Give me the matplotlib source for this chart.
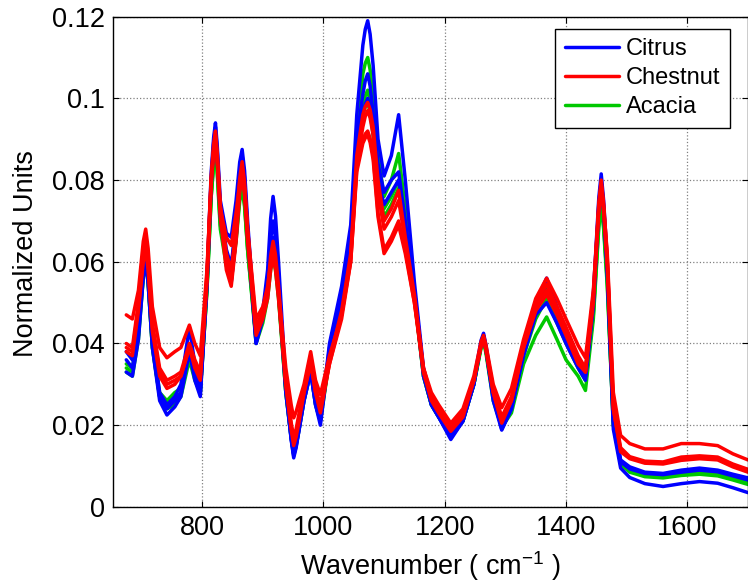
import numpy as np
import matplotlib
matplotlib.use("Agg")
import matplotlib.pyplot as plt

# wavenumber grid (cm-1) shared by all spectra
wn = [675, 685, 695, 703, 707, 711, 718, 730, 742, 755, 765, 779, 788, 797, 808,
      815, 819, 822, 825, 830, 840, 848, 856, 862, 866, 870, 875, 889, 900, 908,
      913, 917, 921, 926, 938, 947, 951, 955, 960, 968, 979, 987, 995, 1010, 1030,
      1045, 1055, 1065, 1069, 1073, 1077, 1082, 1090, 1100, 1112, 1124, 1135, 1150, 1165, 1178,
      1190, 1210, 1230, 1248, 1260, 1264, 1268, 1280, 1294, 1310, 1330, 1350, 1368, 1385, 1400,
      1420, 1432, 1445, 1454, 1458, 1462, 1468, 1478, 1490, 1505, 1530, 1560, 1590, 1620, 1650, 1675, 1700]

# Citrus spectra
citrus_1 = [.038, .036, .045, .0586, .062, .0568, .041, .028, .025, .027, .030, .044, .035, .029, .056,
            .082, .0904, .094, .0883, .075, .067, .066, .075, .0844, .0875, .0823, .070, .041, .048, .058,
            .0706, .076, .0712, .060, .030, .0173, .013, .0155, .020, .027, .034, .026, .021, .040, .054,
            .069, .096, .113, .1169, .119, .1157, .108, .090, .081, .086, .096, .080, .055, .034, .026,
            .023, .0175, .022, .031, .0408, .0425, .0396, .028, .0195, .025, .039, .050, .056, .049, .043,
            .036, .033, .052, .0756, .0815, .075, .060, .022, .0115, .0098, .0085, .0082, .0090, .0095, .0090, .0080, .0071]
citrus_2 = [.036, .034, .043, .0574, .061, .0558, .040, .027, .024, .026, .028, .039, .033, .028, .055,
            .080, .0891, .093, .087, .073, .063, .059, .070, .082, .086, .0806, .068, .040, .047, .055,
            .0655, .070, .0658, .056, .029, .0163, .012, .0145, .019, .026, .033, .025, .021, .039, .052,
            .066, .090, .101, .1043, .106, .103, .096, .084, .077, .080, .082, .070, .053, .033, .025,
            .022, .017, .021, .030, .0402, .042, .039, .027, .019, .024, .038, .048, .053, .047, .042,
            .035, .032, .050, .074, .080, .0734, .058, .021, .011, .0093, .0082, .0079, .0085, .0090, .0086, .0076, .0066]
citrus_3 = [.033, .032, .041, .0562, .060, .0548, .039, .026, .0225, .0245, .027, .038, .031, .027, .054,
            .079, .0874, .091, .085, .071, .060, .055, .066, .0788, .083, .0779, .066, .040, .046, .053,
            .0621, .066, .0621, .053, .028, .0164, .0125, .0148, .019, .026, .033, .025, .020, .038, .051,
            .064, .086, .096, .0986, .100, .0976, .092, .080, .074, .077, .080, .068, .052, .032, .025,
            .022, .0165, .021, .030, .0398, .0415, .0384, .026, .0188, .024, .037, .047, .050, .045, .040,
            .034, .031, .049, .073, .079, .0724, .057, .019, .0095, .0072, .0057, .0050, .0057, .0062, .0058, .0047, .0035]

# Chestnut spectra
chestnut_1 = [.047, .046, .053, .065, .068, .0633, .049, .039, .0365, .038, .039, .0445, .040, .037, .058,
              .080, .087, .090, .0849, .073, .066, .064, .072, .0795, .082, .0778, .068, .046, .049, .054,
              .0596, .062, .0593, .053, .034, .0249, .0218, .0233, .026, .030, .038, .031, .0275, .037, .047,
              .060, .082, .089, .0903, .091, .0892, .085, .071, .062, .065, .069, .062, .050, .034, .028,
              .025, .0205, .024, .032, .0405, .042, .0396, .030, .0243, .029, .041, .051, .056, .051, .046,
              .0395, .0365, .053, .073, .078, .0732, .062, .028, .0175, .0155, .0142, .0142, .0155, .0155, .0150, .0130, .0115]
chestnut_2 = [.040, .039, .050, .0628, .066, .0608, .045, .034, .031, .032, .033, .040, .036, .033, .057,
              .081, .0887, .092, .0866, .074, .062, .058, .068, .0804, .0845, .0795, .068, .044, .048, .053,
              .0614, .065, .0617, .054, .031, .0205, .017, .0191, .023, .029, .037, .029, .025, .036, .048,
              .062, .086, .096, .098, .099, .0972, .093, .080, .070, .073, .0775, .066, .052, .034, .027,
              .024, .0195, .023, .031, .0399, .0415, .039, .029, .022, .027, .040, .050, .0545, .049, .044,
              .037, .034, .052, .0744, .080, .0743, .061, .025, .0145, .0123, .0112, .0110, .0122, .0125, .0122, .0105, .0092]
chestnut_3 = [.039, .038, .049, .061, .064, .059, .044, .033, .030, .031, .032, .039, .035, .032, .056,
              .080, .0877, .091, .0853, .072, .060, .055, .066, .0788, .083, .0779, .066, .043, .047, .052,
              .0597, .063, .0597, .052, .030, .0195, .016, .0181, .022, .028, .036, .028, .024, .035, .047,
              .061, .084, .093, .0956, .097, .0952, .091, .077, .068, .071, .075, .065, .051, .033, .027,
              .024, .019, .023, .031, .0395, .041, .0384, .028, .021, .026, .039, .049, .053, .048, .043,
              .036, .033, .051, .0734, .079, .0733, .060, .024, .014, .012, .011, .0108, .0118, .0121, .0118, .0101, .0088]
chestnut_4 = [.038, .037, .048, .060, .063, .058, .043, .032, .029, .030, .032, .039, .034, .031, .055,
              .079, .0867, .090, .0843, .071, .058, .054, .065, .077, .081, .0762, .065, .042, .046, .051,
              .058, .061, .058, .051, .030, .0188, .015, .0171, .021, .028, .035, .028, .023, .035, .046,
              .060, .083, .090, .0913, .092, .0902, .086, .072, .063, .066, .070, .063, .050, .033, .026,
              .023, .0185, .022, .031, .0395, .041, .0384, .028, .0205, .026, .039, .048, .052, .047, .042,
              .035, .033, .050, .0724, .078, .0723, .059, .024, .0135, .0118, .0107, .0105, .0114, .0118, .0115, .0098, .0085]

# Acacia spectra
acacia_1 = [.035, .034, .043, .0574, .061, .0558, .040, .028, .026, .028, .029, .038, .033, .029, .054,
            .077, .0854, .089, .0833, .070, .062, .059, .068, .077, .080, .0752, .064, .041, .046, .053,
            .0614, .065, .0614, .053, .029, .0178, .014, .0161, .020, .027, .034, .026, .022, .037, .050,
            .064, .088, .106, .1086, .110, .107, .100, .086, .076, .080, .0865, .073, .053, .033, .026,
            .023, .018, .022, .030, .0394, .041, .0382, .027, .020, .025, .038, .048, .054, .047, .042,
            .035, .032, .048, .0704, .076, .070, .056, .021, .011, .0095, .0083, .0080, .0086, .0090, .0086, .0075, .0064]
acacia_2 = [.034, .033, .042, .0564, .060, .0548, .039, .027, .025, .026, .028, .037, .032, .028, .053,
            .076, .0844, .088, .0823, .069, .060, .057, .066, .0758, .079, .0742, .063, .041, .046, .052,
            .0597, .063, .0597, .052, .028, .0168, .013, .0155, .020, .027, .034, .026, .022, .036, .049,
            .063, .086, .098, .1006, .102, .0993, .093, .081, .073, .076, .080, .069, .052, .032, .025,
            .022, .0175, .021, .030, .0394, .041, .0382, .027, .0195, .024, .037, .046, .051, .045, .040,
            .034, .031, .047, .0694, .075, .069, .055, .020, .0105, .0088, .0077, .0074, .0080, .0084, .0080, .0069, .0058]
acacia_3 = [.033, .032, .041, .0562, .060, .0548, .039, .027, .024, .025, .027, .036, .031, .028, .053,
            .076, .0837, .087, .0813, .068, .059, .056, .065, .0748, .078, .0735, .063, .040, .045, .051,
            .058, .061, .058, .051, .028, .0168, .013, .0151, .019, .026, .033, .025, .021, .036, .048,
            .062, .085, .096, .098, .099, .0966, .091, .079, .071, .074, .078, .067, .051, .032, .025,
            .022, .017, .021, .030, .0389, .0405, .0376, .026, .0195, .023, .035, .042, .0465, .041, .036,
            .032, .0285, .046, .0684, .074, .068, .054, .020, .0105, .0085, .0074, .0071, .0077, .0080, .0076, .0066, .0055]

citrus = [citrus_1, citrus_2, citrus_3]
chestnut = [chestnut_1, chestnut_2, chestnut_3, chestnut_4]
acacia = [acacia_1, acacia_2, acacia_3]

x_ticks = [800, 1000, 1200, 1400, 1600]
y_ticks = [0, 0.02, 0.04, 0.06, 0.08, 0.1, 0.12]
y_labels = ["0", "0.02", "0.04", "0.06", "0.08", "0.1", "0.12"]

plt.rcParams["font.family"] = ["Liberation Sans", "DejaVu Sans"]

fig = plt.figure(figsize=(7.48, 5.84), dpi=100)
ax = fig.add_axes([0.151, 0.132, 0.849, 0.8395])

lw = 2.5
style = dict(linewidth=lw, solid_joinstyle="round", solid_capstyle="round")
for s in acacia:
    la, = ax.plot(wn, s, color="#00c800", **style)
for s in citrus:
    lc, = ax.plot(wn, s, color="#0000ff", **style)
for s in chestnut:
    ln, = ax.plot(wn, s, color="#ff0000", **style)

ax.set_xlim(653, 1700)
ax.set_ylim(0, 0.12)
ax.set_xticks(x_ticks)
ax.set_yticks(y_ticks)
ax.set_yticklabels(y_labels)
ax.tick_params(direction="in", top=True, right=True, length=4, labelsize=19.5, pad=6)
ax.grid(True, color="#808080", linestyle=":", linewidth=0.9)
for sp in ax.spines.values():
    sp.set_linewidth(1.0)

ax.set_xlabel("Wavenumber ( cm$^{\\mathregular{-1}}$ )", fontsize=19.5, labelpad=6)
ax.set_ylabel("Normalized Units", fontsize=19.5)
ax.yaxis.set_label_coords(-0.116, 0.516)

leg = ax.legend([lc, ln, la], ["Citrus", "Chestnut", "Acacia"], loc="upper right",
                bbox_to_anchor=(0.9717, 0.9755), borderaxespad=0, fontsize=17,
                fancybox=False, framealpha=1, edgecolor="black", handlelength=2.3,
                borderpad=0.4, labelspacing=0.3, handletextpad=0.3)
leg.get_frame().set_linewidth(1.0)

fig.savefig("out.png", dpi=100)
plt.close(fig)
